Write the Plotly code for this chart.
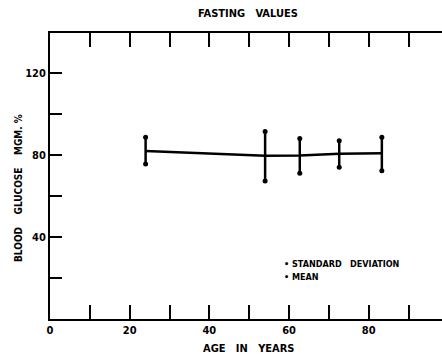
import plotly.graph_objects as go

# Data
ages = [24.0, 54.0, 62.7, 72.6, 83.3]
mean_glucose = [82.0, 79.6, 79.7, 80.6, 80.8]
sd_upper = [88.6, 91.4, 88.1, 87.0, 88.6]
sd_lower = [75.6, 67.3, 71.1, 74.0, 72.3]

x_tickvals = [0, 10, 20, 30, 40, 50, 60, 70, 80, 90]
x_ticktext = ["0", "", "20", "", "40", "", "60", "", "80", ""]
y_tickvals = [20, 40, 60, 80, 100, 120]
y_ticktext = ["", "40", "", "80", "", "120"]

FONT = "DejaVu Sans Condensed, Liberation Sans Narrow, sans-serif"

W, H = 442, 359
L, R, T, B = 50, 0, 33, 40
PW, PH = W - L - R, H - T - B


def px(x):
    return (x - L) / PW


def py(y):
    return (H - B - y) / PH


err_plus = [u - m for u, m in zip(sd_upper, mean_glucose)]
err_minus = [m - l for m, l in zip(mean_glucose, sd_lower)]

fig = go.Figure()
fig.add_trace(go.Scatter(
    x=ages, y=mean_glucose, mode="lines",
    line=dict(color="black", width=2.5),
    error_y=dict(type="data", array=err_plus, arrayminus=err_minus,
                 symmetric=False, width=0, thickness=2.5, color="black"),
    showlegend=False, hoverinfo="skip"))
fig.add_trace(go.Scatter(
    x=ages + ages, y=sd_upper + sd_lower, mode="markers",
    marker=dict(color="black", size=5),
    showlegend=False, hoverinfo="skip"))

fig.update_layout(
    width=W, height=H,
    margin=dict(l=L, r=R, t=T, b=B),
    paper_bgcolor="white", plot_bgcolor="white",
    font=dict(family=FONT, color="black", size=11),
    xaxis=dict(range=[0, 98.4], showgrid=False, zeroline=False,
               showline=True, linecolor="black", linewidth=2,
               mirror="allticks", ticks="inside", ticklen=14, tickwidth=2,
               tickcolor="black", tickvals=x_tickvals, ticktext=x_ticktext,
               tickfont=dict(family=FONT, size=11, weight="bold")),
    yaxis=dict(range=[0, 139.5], showgrid=False, zeroline=False,
               showline=True, linecolor="black", linewidth=2,
               ticks="inside", ticklen=12, tickwidth=2, tickcolor="black",
               tickvals=y_tickvals, ticktext=y_ticktext,
               tickfont=dict(family=FONT, size=11, weight="bold")),
    yaxis2=dict(range=[0, 139.5], overlaying="y", side="right", anchor="x",
                showgrid=False, zeroline=False, showline=False,
                ticks="inside", ticklen=10, tickwidth=2, tickcolor="black",
                tickvals=y_tickvals, showticklabels=False),
)

fig.add_annotation(text="FASTING   VALUES", xref="paper", yref="paper",
                   x=px(248), y=py(14), showarrow=False,
                   xanchor="center", yanchor="middle",
                   font=dict(family=FONT, size=11, weight="bold"))
fig.add_annotation(text="AGE   IN   YEARS", xref="paper", yref="paper",
                   x=px(249), y=py(348), showarrow=False,
                   xanchor="center", yanchor="middle",
                   font=dict(family=FONT, size=11, weight="bold"))
fig.add_annotation(text="BLOOD    GLUCOSE    MGM. %", textangle=-90,
                   xref="paper", yref="paper", x=px(18), y=py(188),
                   showarrow=False, xanchor="center", yanchor="middle",
                   font=dict(family=FONT, size=10, weight="bold"))
fig.add_annotation(text="• STANDARD   DEVIATION", xref="paper", yref="paper",
                   x=px(282), y=py(264), showarrow=False,
                   xanchor="left", yanchor="middle",
                   font=dict(family=FONT, size=9, weight="bold"))
fig.add_annotation(text="• MEAN", xref="paper", yref="paper",
                   x=px(282), y=py(277), showarrow=False,
                   xanchor="left", yanchor="middle",
                   font=dict(family=FONT, size=9, weight="bold"))

fig.write_html("out.html")
